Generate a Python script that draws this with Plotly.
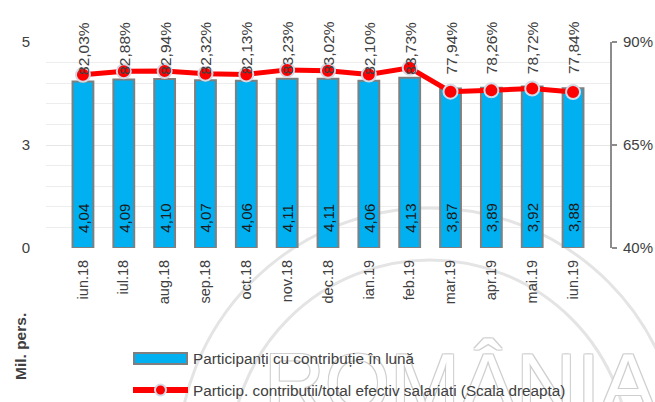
import plotly.graph_objects as go

# ---- data ----
months = ["iun.18", "iul.18", "aug.18", "sep.18", "oct.18", "nov.18", "dec.18",
          "ian.19", "feb.19", "mar.19", "apr.19", "mai.19", "iun.19"]
participants = [4.04, 4.09, 4.10, 4.07, 4.06, 4.11, 4.11, 4.06, 4.13, 3.87, 3.89, 3.92, 3.88]
share_pct = [82.03, 82.88, 82.94, 82.32, 82.13, 83.23, 83.02, 82.10, 83.73, 77.94, 78.26, 78.72, 77.84]
left_tickvals = [0, 2.5, 5]
left_ticktext = ["0", "3", "5"]
right_tickvals = [40, 65, 90]
right_ticktext = ["40%", "65%", "90%"]
bar_name = "Participanți cu contribuție în lună"
line_name = "Particip. contributii/total efectiv salariati (Scala dreapta)"
y_title = "Mil. pers."
watermark = "ROMÂNIA"

FONT = "Liberation Sans, Arial, sans-serif"
TXT = "#404040"

W, H = 655, 402
L, R, T, B = 46, 610, 42, 248


def px(x):
    return (x - L) / (R - L)


def py(y):
    return (B - y) / (B - T)


def fmt(v, d=2):
    return f"{v:.{d}f}".replace(".", ",")


fig = go.Figure()

fig.add_trace(go.Bar(
    x=months, y=participants, name=bar_name, yaxis="y",
    marker=dict(color="#00B0F0", line=dict(color="#7F7F7F", width=2)),
    hoverinfo="x+y",
))
fig.add_trace(go.Scatter(
    x=months, y=share_pct, name=line_name, yaxis="y2", mode="lines+markers",
    line=dict(color="#FF0000", width=5),
    marker=dict(size=14, color="#FF0000", line=dict(color="#D3DAE6", width=2)),
    hoverinfo="x+y",
))

annotations = []
shapes = []

# watermark (faint)
cx, cy = 430, 460
for r in (252, 200):
    shapes.append(dict(type="circle", xref="paper", yref="paper", layer="below",
                       x0=px(cx - r), x1=px(cx + r), y0=py(cy + r), y1=py(cy - r),
                       line=dict(color="#E4E4E4", width=3)))
annotations.append(dict(text=watermark, xref="paper", yref="paper",
                        x=px(460), y=py(334), xanchor="center", yanchor="top",
                        showarrow=False,
                        font=dict(family="Liberation Sans, sans-serif", size=84, color="white",
                                  shadow="1px 1px 0 #cfcfcf, -1px -1px 0 #cfcfcf, 1px -1px 0 #cfcfcf, -1px 1px 0 #cfcfcf")))

# bar value labels
for m, v in zip(months, participants):
    annotations.append(dict(x=m, y=0, xref="x", yref="y", text=fmt(v), textangle=-90,
                            xanchor="center", yanchor="middle", yshift=30, showarrow=False,
                            font=dict(family=FONT, size=15, color="#1A1A1A")))
# percentage labels
for m, v in zip(months, share_pct):
    annotations.append(dict(x=m, y=py(48), xref="x", yref="paper", text=fmt(v) + "%",
                            textangle=-90, xanchor="center", yanchor="middle",
                            showarrow=False,
                            font=dict(family=FONT, size=15.5, color=TXT)))

# axis title
annotations.append(dict(text="<b>" + y_title + "</b>", xref="paper", yref="paper",
                        x=px(20), y=py(347), textangle=-90, showarrow=False,
                        xanchor="center", yanchor="middle",
                        font=dict(family=FONT, size=15.5, color=TXT)))

# custom legend
shapes.append(dict(type="rect", xref="paper", yref="paper",
                   x0=px(134), x1=px(187), y0=py(364), y1=py(353),
                   fillcolor="#00B0F0", line=dict(color="#7F7F7F", width=2)))
shapes.append(dict(type="line", xref="paper", yref="paper",
                   x0=px(133), x1=px(188), y0=py(390), y1=py(390),
                   line=dict(color="#FF0000", width=6)))
shapes.append(dict(type="circle", xref="paper", yref="paper",
                   x0=px(155), x1=px(166), y0=py(395.5), y1=py(384.5),
                   fillcolor="#FF0000", line=dict(color="#D3DAE6", width=2)))
annotations.append(dict(text=bar_name, xref="paper", yref="paper", x=px(191), y=py(358.5),
                        xanchor="left", yanchor="middle", showarrow=False,
                        font=dict(family=FONT, size=15.3, color=TXT)))
annotations.append(dict(text=line_name, xref="paper", yref="paper", x=px(191), y=py(390),
                        xanchor="left", yanchor="middle", showarrow=False,
                        font=dict(family=FONT, size=15.3, color=TXT)))

fig.update_layout(
    width=W, height=H, autosize=False,
    margin=dict(l=L, r=W - R, t=T, b=H - B, pad=0, autoexpand=False),
    paper_bgcolor="white", plot_bgcolor="white",
    showlegend=False, bargap=0.49,
    font=dict(family=FONT, color=TXT),
    xaxis=dict(type="category", tickangle=-90, showgrid=False, ticks="",
               showline=False, zeroline=False, ticklabelstandoff=8, automargin=False,
               tickfont=dict(family=FONT, size=14.5, color=TXT)),
    yaxis=dict(range=[0, 5], tickmode="array", tickvals=left_tickvals, ticktext=left_ticktext,
               showgrid=True, gridcolor="#E6E6E6", gridwidth=1, zeroline=False,
               showline=False, ticks="", ticklabelstandoff=15, automargin=False,
               minor=dict(tickmode="linear", tick0=0, dtick=0.5, showgrid=True,
                          gridcolor="#EDEDED", gridwidth=1),
               tickfont=dict(family=FONT, size=15, color=TXT)),
    yaxis2=dict(range=[40, 90], overlaying="y", side="right", tickmode="array",
                tickvals=right_tickvals, ticktext=right_ticktext, showgrid=False,
                zeroline=False, showline=True, linecolor="#8C8C8C", linewidth=2,
                ticks="outside", ticklen=5, tickwidth=2, tickcolor="#8C8C8C",
                ticklabelstandoff=3, automargin=False,
                tickfont=dict(family=FONT, size=15, color=TXT)),
    shapes=shapes, annotations=annotations,
)

fig.write_html("out.html", config={"displayModeBar": False},
               post_script="document.body.style.margin='0';")
